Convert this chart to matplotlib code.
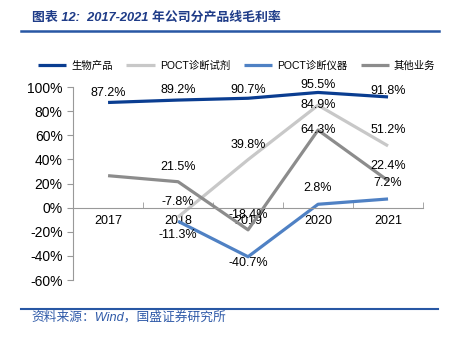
import matplotlib.pyplot as plt
import numpy as np

plt.rcParams['font.family'] = ['Liberation Sans', 'Noto Sans CJK SC']
plt.rcParams['font.size'] = 9

years = ['2017', '2018', '2019', '2020', '2021']
bio = [87.2, 89.2, 90.7, 95.5, 91.8]
reagent = [np.nan, -7.8, 39.8, 84.9, 51.2]
instrument = [np.nan, -11.3, -40.7, 2.8, 7.2]
other = [26.5, 21.5, -18.4, 64.3, 22.4]

names = ['生物产品', 'POCT诊断试剂', 'POCT诊断仪器', '其他业务']
colors = ['#0a3d91', '#c8c8c8', '#4f81c4', '#8c8c8c']

# label offsets in pixels, positive = above the point, None = no label
offsets = [
    [9, 10, 8, 7, 6],
    [None, 15, 15, 0, 16],
    [None, -14, -6, 16, 16],
    [None, 15, 15, 0, 15],
]

fig = plt.figure(figsize=(4.51, 3.44), dpi=100)
ax = fig.add_axes([0.162, 0.186, 0.776, 0.561])

x = np.arange(len(years))
series = [bio, reagent, instrument, other]
for vals, name, c in zip(series, names, colors):
    ax.plot(x, vals, color=c, linewidth=2.3, label=name, solid_capstyle='butt')

for vals, offs in zip(series, offsets):
    for i, v in enumerate(vals):
        if offs[i] is None or np.isnan(v):
            continue
        ax.annotate(f'{v:.1f}%', (x[i], v), xytext=(0, offs[i]), textcoords='offset pixels',
                    ha='center', va='center', fontsize=9)

ax.set_xlim(-0.5, 4.5)
ax.set_ylim(-60, 100)
ax.set_yticks(range(-60, 101, 20))
ax.set_yticklabels([f'{t}%' for t in range(-60, 101, 20)], fontsize=10)
ax.set_xticks(x)
ax.set_xticklabels(years, fontsize=9)
ax.set_xticks(np.arange(-0.5, 5, 1), minor=True)
ax.tick_params(axis='x', which='major', length=0, pad=5)
ax.tick_params(axis='x', which='minor', length=4, direction='in', color='#999999')
ax.tick_params(axis='y', length=4, color='#999999', direction='out')

ax.spines['bottom'].set_position(('data', 0))
ax.spines['top'].set_visible(False)
ax.spines['right'].set_visible(False)
for s in ['left', 'bottom']:
    ax.spines[s].set_color('#999999')

ax.legend(loc='center', bbox_to_anchor=(0.525, 0.808), bbox_transform=fig.transFigure,
          ncol=4, frameon=False, handlelength=2.7, columnspacing=1.3,
          handletextpad=0.5, prop={'family': ['Liberation Sans', 'Noto Sans CJK SC'], 'size': 7.5})

title_color = '#1f3c88'
fig.text(0.07, 0.951, '图表 12:  2017-2021 年公司分产品线毛利率', fontsize=9.3, style='italic',
         color=title_color, va='center', fontweight='bold')
fig.add_artist(plt.Line2D([0.047, 0.973], [0.91, 0.91], color='#2857a4', linewidth=1.8))
fig.add_artist(plt.Line2D([0.047, 0.971], [0.102, 0.102], color='#2857a4', linewidth=1.5))
fig.text(0.07, 0.077, '资料来源：Wind，国盛证券研究所', fontsize=9.2, style='italic',
         color='#2f5aa8', va='center')

fig.savefig('out.png', dpi=100)
